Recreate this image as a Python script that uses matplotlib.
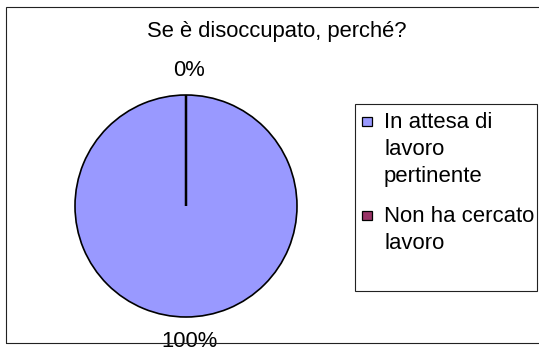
import matplotlib
matplotlib.use('Agg')
import matplotlib.pyplot as plt
from matplotlib.patches import Rectangle

plt.rcParams.update({
    'font.family': ['Liberation Sans', 'DejaVu Sans'],
    'font.size': 15.5,
})

# ── Data ──────────────────────────────────────────────────────────────
title = 'Se è disoccupato, perché?'
categories = ['In attesa di\nlavoro\npertinente', 'Non ha cercato\nlavoro']
shares = [100, 0]                      # percent of respondents
colors = ['#9999FF', '#993366']

W, H = 539, 352                        # canvas size in pixels
fig = plt.figure(figsize=(W / 100, H / 100), dpi=100)


def px(x, y):
    """Pixel position (from top-left) to figure fraction."""
    return x / W, 1 - y / H


# outer chart border (runs off the right edge)
fig.patches.append(Rectangle(px(5.5, 343), 1.0, (343 - 6.5) / H,
                             transform=fig.transFigure, fill=False,
                             edgecolor='#222222', lw=0.8))

fig.text(*px(277, 32), title, ha='center', va='center', fontsize=15.8)

# ── Pie ───────────────────────────────────────────────────────────────
cx, cy, r = 186, 206, 111              # centre and radius in pixels
lim = 1.3
half = r * lim
ax = fig.add_axes([(cx - half) / W, (H - cy - half) / H,
                   2 * half / W, 2 * half / H])

total = sum(shares)
pct_labels = [f'{v / total * 100:.0f}%' for v in shares]
wedges, texts = ax.pie(shares, colors=colors, labels=pct_labels,
                       startangle=90, counterclock=False,
                       labeldistance=1.22,
                       wedgeprops=dict(edgecolor='black', linewidth=1.2),
                       textprops=dict(fontsize=15.8))
wedges[1].set_linewidth(1.8)           # empty slice shows as a radius
for t in texts:
    t.set_ha('center')
    t.set_va('center')
    x, y = t.get_position()
    t.set_position((x + 0.03, y))
ax.set_aspect('auto')
ax.set_xlim(-lim, lim)
ax.set_ylim(-lim, lim)
ax.axis('off')

# ── Legend ────────────────────────────────────────────────────────────
fig.patches.append(Rectangle(px(355, 291), (537 - 355) / W, (291 - 104) / H,
                             transform=fig.transFigure, fill=False,
                             edgecolor='#222222', lw=0.8))

line_step = 27
entry_gap = 13
base = 128
box = 9.5
for label, color in zip(categories, colors):
    lines = label.split('\n')
    mid = base - 6.5
    fig.patches.append(Rectangle(px(362, mid + box / 2), box / W, box / H,
                                 transform=fig.transFigure,
                                 facecolor=color, edgecolor='black', lw=0.9))
    for i, line in enumerate(lines):
        fig.text(*px(384, base + i * line_step), line,
                 ha='left', va='baseline', fontsize=15.9)
    base += len(lines) * line_step + entry_gap

fig.savefig('out.png', dpi=100, facecolor='white')
plt.close()
